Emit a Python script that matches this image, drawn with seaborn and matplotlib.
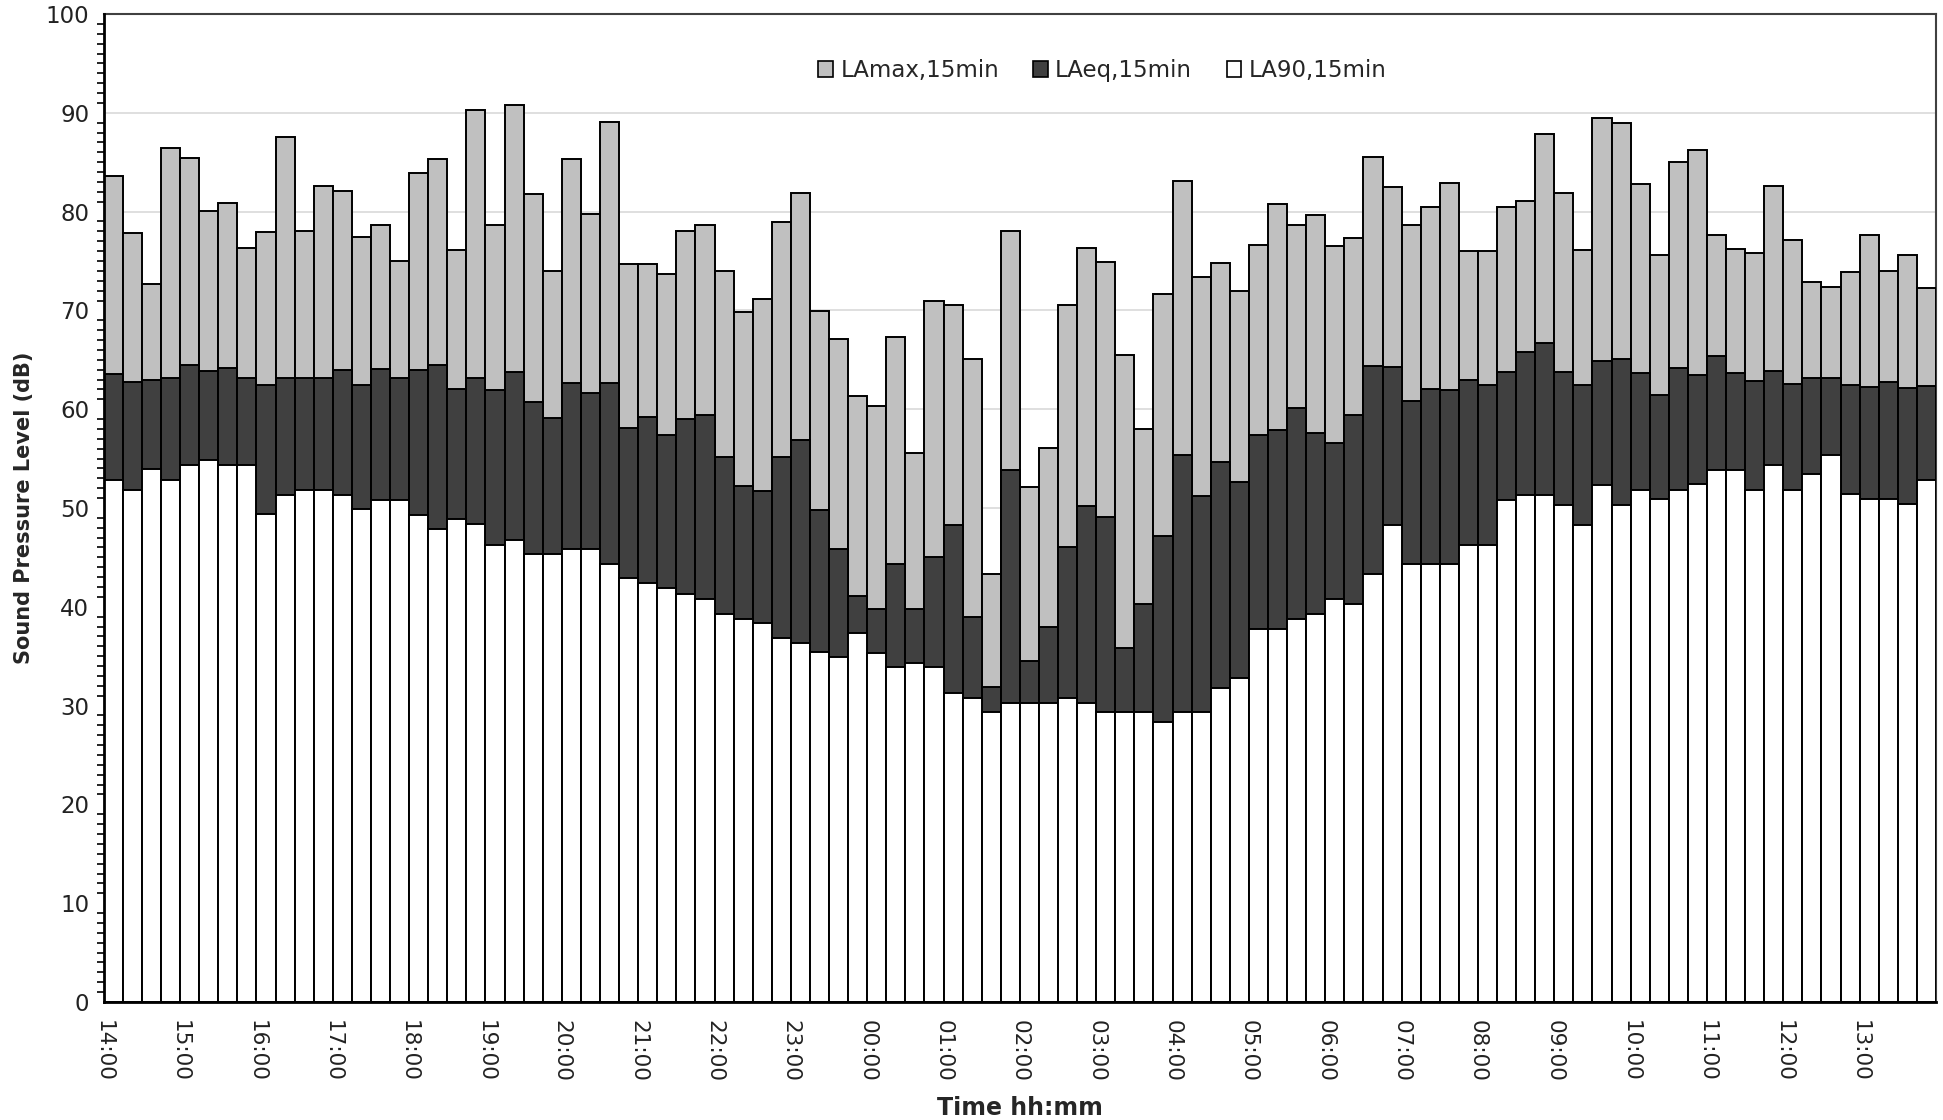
import numpy as np
import pandas as pd
import matplotlib
matplotlib.use("Agg")
import matplotlib.pyplot as plt
from matplotlib.patches import Patch
from matplotlib.ticker import MultipleLocator
import seaborn as sns

hour_labels = ["14:00", "15:00", "16:00", "17:00", "18:00", "19:00", "20:00", "21:00",
               "22:00", "23:00", "00:00", "01:00", "02:00", "03:00", "04:00", "05:00",
               "06:00", "07:00", "08:00", "09:00", "10:00", "11:00", "12:00", "13:00"]

la_max = [83.6, 77.8, 72.7, 86.4, 85.4, 80.1, 80.9, 76.3,
          77.9, 87.6, 78.0, 82.6, 82.1, 77.4, 78.6, 75.0,
          83.9, 85.3, 76.1, 90.3, 78.6, 90.8, 81.8, 74.0,
          85.3, 79.8, 89.1, 74.7, 74.7, 73.7, 78.0, 78.6,
          74.0, 69.8, 71.2, 78.9, 81.9, 69.9, 67.1, 61.3,
          60.3, 67.3, 55.6, 71.0, 70.5, 65.1, 43.3, 78.0,
          52.1, 56.1, 70.5, 76.3, 74.9, 65.5, 58.0, 71.7,
          83.1, 73.4, 74.8, 72.0, 76.6, 80.8, 78.6, 79.7,
          76.5, 77.3, 85.5, 82.5, 78.6, 80.5, 82.9, 76.0,
          76.0, 80.5, 81.1, 87.9, 81.9, 76.1, 89.5, 89.0,
          82.8, 75.6, 85.0, 86.2, 77.6, 76.2, 75.8, 82.6,
          77.1, 72.9, 72.4, 73.9, 77.6, 74.0, 75.6, 72.3]

la_eq = [63.6, 62.8, 63.0, 63.2, 64.5, 63.9, 64.2, 63.2,
         62.4, 63.2, 63.2, 63.2, 64.0, 62.4, 64.1, 63.2,
         64.0, 64.5, 62.0, 63.2, 61.9, 63.8, 60.7, 59.1,
         62.6, 61.6, 62.7, 58.1, 59.2, 57.4, 59.0, 59.4,
         55.2, 52.2, 51.7, 55.2, 56.9, 49.8, 45.8, 41.1,
         39.8, 44.3, 39.8, 45.0, 48.3, 39.0, 31.9, 53.8,
         34.5, 38.0, 46.1, 50.2, 49.1, 35.8, 40.3, 47.2,
         55.4, 51.2, 54.7, 52.6, 57.4, 57.9, 60.1, 57.6,
         56.6, 59.4, 64.4, 64.3, 60.8, 62.0, 61.9, 63.0,
         62.4, 63.8, 65.8, 66.7, 63.8, 62.4, 64.9, 65.1,
         63.7, 61.4, 64.2, 63.5, 65.4, 63.7, 62.9, 63.9,
         62.5, 63.2, 63.2, 62.4, 62.2, 62.8, 62.1, 62.3]

la_90 = [52.8, 51.8, 53.9, 52.8, 54.3, 54.9, 54.3, 54.3,
         49.4, 51.3, 51.8, 51.8, 51.3, 49.9, 50.8, 50.8,
         49.3, 47.9, 48.9, 48.4, 46.3, 46.8, 45.3, 45.3,
         45.8, 45.8, 44.3, 42.9, 42.4, 41.9, 41.3, 40.8,
         39.3, 38.8, 38.4, 36.8, 36.3, 35.4, 34.9, 37.3,
         35.3, 33.9, 34.3, 33.9, 31.3, 30.8, 29.3, 30.3,
         30.3, 30.3, 30.8, 30.3, 29.3, 29.3, 29.3, 28.3,
         29.3, 29.3, 31.8, 32.8, 37.8, 37.8, 38.8, 39.3,
         40.8, 40.3, 43.3, 48.3, 44.3, 44.3, 44.3, 46.3,
         46.3, 50.8, 51.3, 51.3, 50.3, 48.3, 52.3, 50.3,
         51.8, 50.9, 51.8, 52.4, 53.8, 53.8, 51.8, 54.3,
         51.8, 53.4, 55.4, 51.4, 50.9, 50.9, 50.4, 52.8]

series_names = ["LAmax,15min", "LAeq,15min", "LA90,15min"]
series_colors = ["#c0c0c0", "#404040", "#ffffff"]

n = len(la_max)
slots = [f"s{i:02d}" for i in range(n)]
df = pd.DataFrame({"slot": slots, "LAmax": la_max, "LAeq": la_eq, "LA90": la_90})

sns.set_theme(style="white")
plt.rcParams["font.family"] = ["DejaVu Sans"]

fig = plt.figure(figsize=(19.43, 11.2), dpi=100)
ax = fig.add_axes([0.0534, 0.1054, 0.9430, 0.8821])

for col, color in zip(["LAmax", "LAeq", "LA90"], series_colors):
    sns.barplot(data=df, x="slot", y=col, order=slots, color=color, saturation=1,
                width=1.0, edgecolor="black", linewidth=1.4, ax=ax, zorder=3)

ax.set_xlim(-0.5, n - 0.5)
ax.set_ylim(0, 100)

# x ticks at bar boundaries, labels every hour
bounds = np.arange(-0.5, n, 1.0)
ax.set_xticks(bounds)
labels = []
for i in range(len(bounds)):
    if i % 4 == 0 and i // 4 < len(hour_labels):
        labels.append(hour_labels[i // 4])
    else:
        labels.append("")
ax.set_xticklabels(labels, rotation=270, fontsize=15.5, color="#222222")
ax.tick_params(axis="x", direction="out", length=7, width=1.5, color="black", pad=6)

ax.yaxis.set_major_locator(MultipleLocator(10))
ax.yaxis.set_minor_locator(MultipleLocator(1))
ax.tick_params(axis="y", which="major", direction="out", length=7, width=1.5,
               color="black", labelsize=16.5, labelcolor="#222222")
ax.tick_params(axis="y", which="minor", direction="out", length=5, width=1.2, color="black", left=True)

ax.grid(axis="y", which="major", color="#d9d9d9", linewidth=1.2, zorder=0)
ax.grid(axis="x", visible=False)
ax.set_axisbelow(True)

for side in ["left", "bottom"]:
    ax.spines[side].set_color("black")
    ax.spines[side].set_linewidth(2.0)
    ax.spines[side].set_zorder(5)
for side in ["top", "right"]:
    ax.spines[side].set_color("#404040")
    ax.spines[side].set_linewidth(1.5)

ax.set_xlabel("Time hh:mm", fontsize=17, fontweight="bold", labelpad=10)
ax.set_ylabel("Sound Pressure Level (dB)", fontsize=15, fontweight="bold", labelpad=8)

handles = [Patch(facecolor=c, edgecolor="black", linewidth=1.2) for c in series_colors]
ax.legend(handles, series_names, loc="center", bbox_to_anchor=(0.545, 0.943),
          ncol=3, frameon=False, fontsize=16.5, handlelength=0.65, handleheight=0.7,
          handletextpad=0.3, columnspacing=1.5)

fig.savefig("out.png", dpi=100)
